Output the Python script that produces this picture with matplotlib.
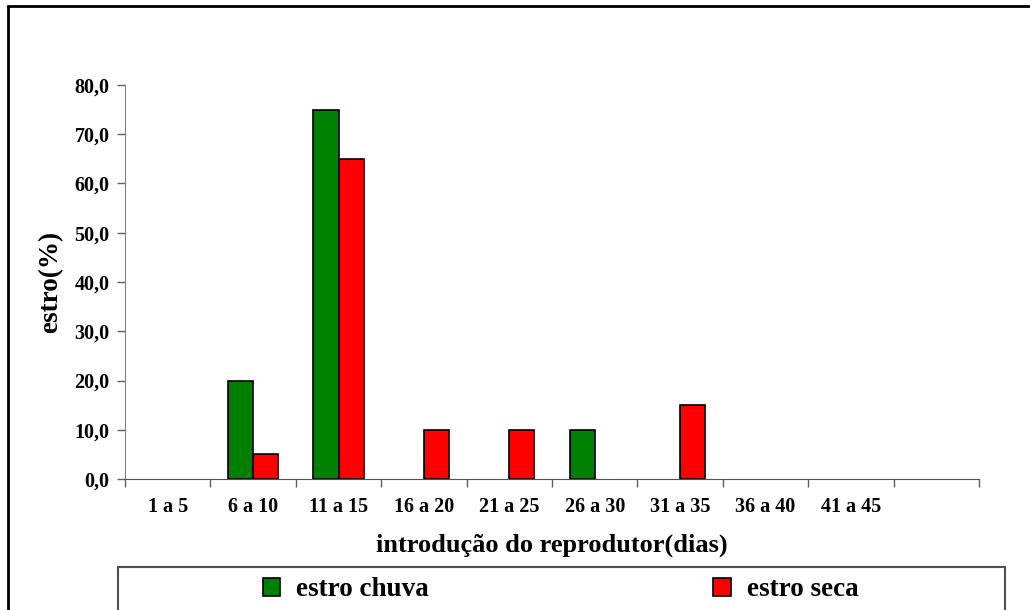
import matplotlib.pyplot as plt
from matplotlib.patches import Rectangle, Patch
import numpy as np

plt.rcParams['font.family'] = ['Liberation Serif', 'DejaVu Serif']
plt.rcParams['font.weight'] = 'bold'

# data
categorias = ['1 a 5', '6 a 10', '11 a 15', '16 a 20', '21 a 25',
              '26 a 30', '31 a 35', '36 a 40', '41 a 45', '']
estro_chuva = [0, 20, 75, 0, 0, 10, 0, 0, 0, 0]
estro_seca = [0, 5, 65, 10, 10, 0, 15, 0, 0, 0]
yticks = [0, 10, 20, 30, 40, 50, 60, 70, 80]
series = ['estro chuva', 'estro seca']
cores = ['#008000', '#ff0000']

W, H = 1030, 610
fig = plt.figure(figsize=(W / 100, H / 100), dpi=100)
ax = fig.add_axes([125 / W, 1 - 479 / H, (979 - 125) / W, (479 - 85) / H])

x = np.arange(len(categorias))
bw = 0.293
b1 = ax.bar(x - bw / 2, estro_chuva, bw, color=cores[0], edgecolor='black',
            linewidth=1.2, zorder=3)
b2 = ax.bar(x + bw / 2, estro_seca, bw, color=cores[1], edgecolor='black',
            linewidth=1.2, zorder=3)
# empty categories have no visible bar in the original
for bars in (b1, b2):
    for r in bars:
        if r.get_height() == 0:
            r.set_linewidth(0)

ax.set_xlim(-0.5, len(categorias) - 0.5)
ax.set_ylim(0, 80)
ax.set_yticks(yticks)
ax.yaxis.set_major_formatter(plt.FuncFormatter(lambda v, p: ('%.1f' % v).replace('.', ',')))

# labels at category centres, tick marks at boundaries
ax.set_xticks(x)
ax.set_xticklabels(categorias)
ax.set_xticks(np.arange(len(categorias) + 1) - 0.5, minor=True)
ax.tick_params(axis='x', which='major', length=0, pad=13, labelsize=14.5)
ax.tick_params(axis='x', which='minor', length=6, width=1, color='#606060')
ax.tick_params(axis='y', length=6, width=1, color='#606060', pad=5, labelsize=14.5)

ax.grid(axis='y', color='black', linewidth=1, zorder=0)
for gl in ax.get_ygridlines():
    if gl.get_ydata()[0] in (0, 80):
        gl.set_visible(False)

for s in ['top', 'right']:
    ax.spines[s].set_visible(False)
ax.spines['left'].set_color('#808080')
ax.spines['bottom'].set_color('#505050')

ax.set_xlabel('introdução do reprodutor(dias)', fontsize=19, fontweight='bold')
ax.xaxis.set_label_coords(0.5, (479 - 534) / 394)
ax.set_ylabel('estro(%)', fontsize=19.5, fontweight='bold')
ax.yaxis.set_label_coords((63 - 125) / 854, 0.5)

# outer chart frame and legend box
fig.patches.append(Rectangle((8 / W, -0.2), 1.2, 1.2 - 6 / H, transform=fig.transFigure,
                             fill=False, edgecolor='black', linewidth=2))
fig.patches.append(Rectangle((118 / W, -0.2), (1005 - 118) / W, 0.2 + 1 - 567 / H,
                             transform=fig.transFigure, fill=False,
                             edgecolor='#505050', linewidth=1.5))

handles = [Patch(facecolor=c, edgecolor='black', linewidth=1.2, label=s)
           for s, c in zip(series, cores)]
leg = fig.legend(handles=handles, loc='center left', ncol=2,
                 bbox_to_anchor=(263 / W, 1 - 590 / H), frameon=False,
                 fontsize=19.5, handlelength=0.63, handleheight=0.63,
                 handletextpad=0.6, columnspacing=10.5, borderpad=0, borderaxespad=0)

fig.savefig('out.png', dpi=100)
